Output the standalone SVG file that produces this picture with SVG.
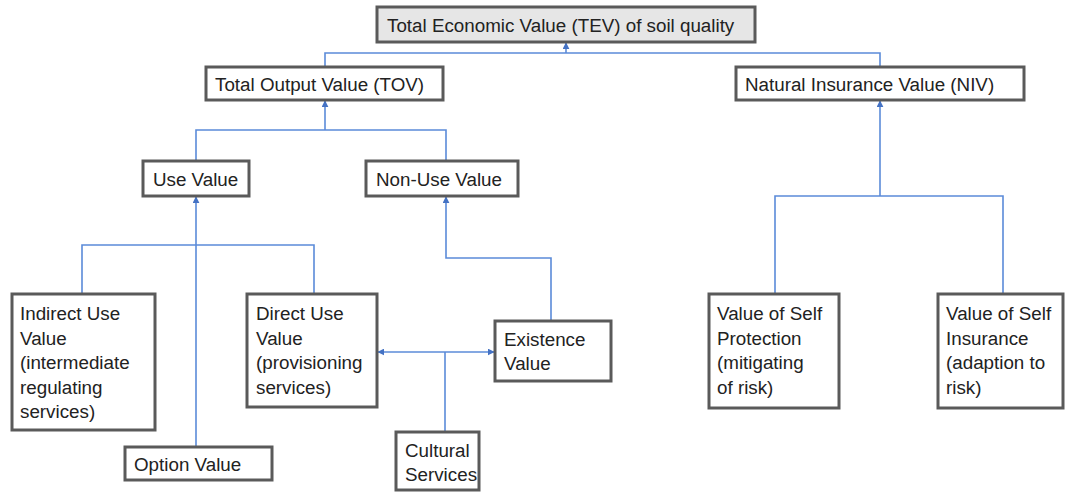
<svg xmlns="http://www.w3.org/2000/svg" width="1065" height="493" viewBox="0 0 1065 493">
<style>
.box{fill:#ffffff;stroke:#5a5a5a;stroke-width:3}
.top{fill:#e6e6e6}
.t{font-family:"Liberation Sans",Arial,sans-serif;font-size:18.8px;fill:#222}
.c{fill:none;stroke:#5b8bd9;stroke-width:1.6}
</style>
<defs>
<marker id="ah" viewBox="0 0 10 10" refX="9" refY="5" markerWidth="7" markerHeight="7" markerUnits="userSpaceOnUse" orient="auto">
<path d="M0,0 L10,5 L0,10 z" fill="#4472c4"/>
</marker>
</defs>
<rect width="1065" height="493" fill="#ffffff"/>
<g id="connectors">
<path class="c" d="M325,67 V53 H880 V67"/>
<path class="c" d="M566,53 V43" marker-end="url(#ah)"/>
<path class="c" d="M196,161 V130 H446 V161"/>
<path class="c" d="M325,130 V101" marker-end="url(#ah)"/>
<path class="c" d="M82,294 V245 H314 V294"/>
<path class="c" d="M196,447 V197" marker-end="url(#ah)"/>
<path class="c" d="M551,321 V258 H446 V197" marker-end="url(#ah)"/>
<path class="c" d="M445,352 H378" marker-end="url(#ah)"/>
<path class="c" d="M445,352 H494" marker-end="url(#ah)"/>
<path class="c" d="M445,432 V352"/>
<path class="c" d="M775,294 V196 H1003 V294"/>
<path class="c" d="M880,196 V101" marker-end="url(#ah)"/>
</g>
<g id="tev"><rect class="box top" x="377" y="7" width="378" height="35"/><text class="t" x="387" y="32">Total Economic Value (TEV) of soil quality</text></g>
<g id="tov"><rect class="box" x="206" y="67" width="237" height="33"/><text class="t" x="215" y="91">Total Output Value (TOV)</text></g>
<g id="niv"><rect class="box" x="736" y="67" width="288" height="33"/><text class="t" x="745" y="91">Natural Insurance Value (NIV)</text></g>
<g id="use"><rect class="box" x="143" y="161" width="106" height="35"/><text class="t" x="153" y="186">Use Value</text></g>
<g id="nonuse"><rect class="box" x="366" y="161" width="152" height="35"/><text class="t" x="376" y="186">Non-Use Value</text></g>
<g id="indirect"><rect class="box" x="12" y="294" width="143" height="136"/><text class="t" x="20" y="320">Indirect Use</text><text class="t" x="20" y="345">Value</text><text class="t" x="20" y="369">(intermediate</text><text class="t" x="20" y="394">regulating</text><text class="t" x="20" y="418">services)</text></g>
<g id="option"><rect class="box" x="125" y="447" width="147" height="33"/><text class="t" x="134" y="471">Option Value</text></g>
<g id="direct"><rect class="box" x="247" y="294" width="130" height="113"/><text class="t" x="256" y="320">Direct Use</text><text class="t" x="256" y="345">Value</text><text class="t" x="256" y="369">(provisioning</text><text class="t" x="256" y="394">services)</text></g>
<g id="existence"><rect class="box" x="495" y="321" width="116" height="60"/><text class="t" x="504" y="346">Existence</text><text class="t" x="504" y="370">Value</text></g>
<g id="cultural"><rect class="box" x="396" y="432" width="83" height="58"/><text class="t" x="405" y="457">Cultural</text><text class="t" x="405" y="481">Services</text></g>
<g id="selfprot"><rect class="box" x="709" y="294" width="130" height="114"/><text class="t" x="717" y="320">Value of Self</text><text class="t" x="717" y="345">Protection</text><text class="t" x="717" y="369">(mitigating</text><text class="t" x="717" y="394">of risk)</text></g>
<g id="selfins"><rect class="box" x="938" y="294" width="125" height="114"/><text class="t" x="946" y="320">Value of Self</text><text class="t" x="946" y="345">Insurance</text><text class="t" x="946" y="369">(adaption to</text><text class="t" x="946" y="394">risk)</text></g>
</svg>
